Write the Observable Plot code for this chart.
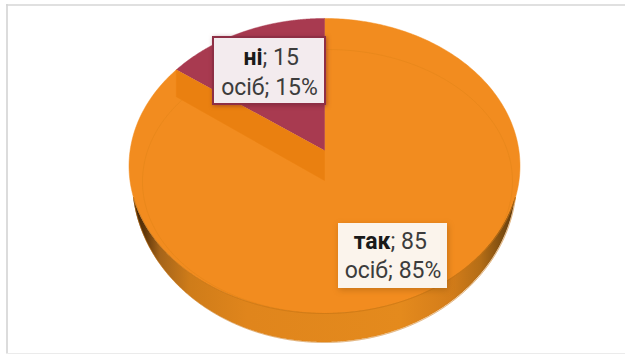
<!DOCTYPE html>
<html lang="uk">
<head>
<meta charset="utf-8">
<script src="https://cdn.jsdelivr.net/npm/d3@7"></script>
<script src="https://cdn.jsdelivr.net/npm/@observablehq/plot@0.6"></script>
<style>
  html, body { margin: 0; padding: 0; background: #fff; }
  svg { display: block; }
  .box-no rect { filter: drop-shadow(1px 1px 2px rgba(110, 30, 45, .5)); }
  .box-yes rect { filter: drop-shadow(1px 2px 3px rgba(120, 70, 10, .35)); }
</style>
</head>
<body>
<div id="chart"></div>
<script>
// Survey answers, in the order the slices are drawn clockwise from twelve o'clock
const answers = ["так", "ні"];
const counts = [85, 15];
const shares = [85, 15];
const unit = "осіб";

// Pie seen in perspective: a unit circle is projected so its near half looks larger
const W = 625, H = 354;
const pivotX = 324, pivotY = 150, scaleX = 194.4, scaleY = 145.9, tilt = 0.105;
const depth = 29 / scaleY;
const total = d3.sum(counts);
const project = (angle, r = 1) => {
  const s = Math.sin(angle) * r, t = Math.cos(angle) * r, w = 1 + tilt * t;
  return {x: s / w, y: t / w};
};
const px = (v) => (v - pivotX) / scaleX;
const py = (v) => (pivotY - v) / scaleY;

const sliceAngle = counts[1] / total * 2 * Math.PI;
const steps = d3.range(0, 361).map((d) => d / 360);

// Slice outlines in projected unit coordinates
const yesSlice = [{x: 0, y: 0}, ...steps.map((f) => project(f * (2 * Math.PI - sliceAngle)))];
const noSlice = [{x: 0, y: 0}, ...steps.map((f) => project(-f * sliceAngle))];

// Near edge of the top surface, found from the outline of the projected circle
const faceCy = 165.5, faceRy = 147.5, faceRx = 195.5;
const baseCy = 180, baseRy = 162, baseRx = 192;
const side = d3.range(-191, 191.5, 1).map((dx) => {
  const top = faceCy + faceRy * Math.sqrt(1 - (dx / faceRx) ** 2);
  const low = baseCy + baseRy * Math.sqrt(1 - (dx / baseRx) ** 2);
  return {x: px(pivotX + dx), top: py(top), low: py(Math.max(top, low))};
});

// Cut face exposed by the smaller slice
const cutEdge = project(-sliceAngle);
const cutFace = [
  {x: cutEdge.x, y: cutEdge.y},
  {x: cutEdge.x, y: cutEdge.y - depth + 2 / scaleY},
  {x: 0, y: -depth - 1 / scaleY},
  {x: 0, y: 0}
];

// Faint bevel ring on the top surface
const bevel = d3.range(0, 361).map((d) => {
  const a = d * Math.PI / 180;
  return {x: px(327 + 185 * Math.sin(a)), y: py(181 + 132 * Math.cos(a))};
});

// Label boxes and their two lines of text
const labels = [
  {i: 1, left: 213, right: 325, top: 37, bottom: 104, mid: 269, line1: 64, line2: 94, split: 262, fill: "#f3ebee", stroke: "#8e2f45", cls: "box-no"},
  {i: 0, left: 338, right: 447, top: 223, bottom: 288, mid: 392.5, line1: 248, line2: 277, split: 390, fill: "#fbf4ec", stroke: "none", cls: "box-yes"}
];

const font = "Roboto, sans-serif";
const textInk = "#3c3c3c";

const gradient = () => {
  const svg = d3.create("svg:defs");
  const g = svg.append("linearGradient").attr("id", "rim").attr("x1", 0).attr("x2", 1).attr("y1", 0).attr("y2", 0);
  [[0, "#3d2206"], [0.03, "#5e3509"], [0.07, "#a5641a"], [0.15, "#cf7c19"], [0.3, "#e0851c"], [0.7, "#e48a1d"], [0.83, "#d47d1a"], [0.91, "#b46d16"], [0.97, "#7a4b10"], [1, "#5f3a0c"]]
    .forEach(([o, c]) => g.append("stop").attr("offset", o).attr("stop-color", c));
  return svg.node();
};

const chart = Plot.plot({
  width: W,
  height: H,
  margin: 0,
  style: {background: "#fff"},
  x: {domain: [px(0), px(W)], range: [0, W], axis: null},
  y: {domain: [py(H), py(0)], range: [H, 0], axis: null},
  marks: [
    gradient,
    // Frame of the picture
    Plot.ruleX([px(6.5)], {y1: py(4), y2: py(353), stroke: "#dcdcdc", strokeWidth: 2}),
    Plot.ruleY([py(4.5)], {x1: px(6), x2: px(W), stroke: "#d6d6d6", strokeWidth: 1.5}),
    Plot.ruleY([py(353.5)], {x1: px(6), x2: px(W), stroke: "#e4e4e4", strokeWidth: 1.5}),
    // Top surface
    Plot.line(yesSlice, {x: "x", y: "y", fill: "#f28c1f", stroke: "#f28c1f", strokeWidth: 0.5}),
    Plot.line(bevel, {x: "x", y: "y", stroke: "#dd8116", strokeWidth: 1, strokeOpacity: 0.4}),
    // Disc side with a darker line on its lower and upper edges
    Plot.areaY(side, {x: "x", y1: "top", y2: "low", fill: "url(#rim)"}),
    Plot.line(side, {x: "x", y: "top", stroke: "#c97614", strokeWidth: 1, strokeOpacity: 0.8}),
    Plot.line(side, {x: "x", y: "low", stroke: "#c97614", strokeWidth: 1, strokeOpacity: 0.6}),
    // Smaller slice with its cut face
    Plot.line(noSlice, {x: "x", y: "y", fill: "#a83a50", stroke: "#a83a50", strokeWidth: 0.5}),
    Plot.line(cutFace, {x: "x", y: "y", fill: "#ea8010", stroke: "#ea8010", strokeWidth: 0.5}),
    // Labels
    ...labels.flatMap((l) => [
      Plot.rect([l], {x1: px(l.left), x2: px(l.right), y1: py(l.top), y2: py(l.bottom), fill: l.fill, stroke: l.stroke, strokeWidth: 2, className: l.cls}),
      Plot.text([answers[l.i]], {x: px(l.split), y: py(l.line1), text: (d) => d, textAnchor: "end", lineAnchor: "bottom", fontFamily: font, fontSize: 23, fontWeight: 700, fill: "#1a1a1a"}),
      Plot.text([`; ${counts[l.i]}`], {x: px(l.split), y: py(l.line1), text: (d) => d, textAnchor: "start", lineAnchor: "bottom", fontFamily: font, fontSize: 23, fill: textInk}),
      Plot.text([`${unit}; ${shares[l.i]}%`], {x: px(l.mid), y: py(l.line2), text: (d) => d, textAnchor: "middle", lineAnchor: "bottom", fontFamily: font, fontSize: 23, fill: textInk})
    ])
  ]
});
document.getElementById("chart").append(chart);
</script>
</body>
</html>
